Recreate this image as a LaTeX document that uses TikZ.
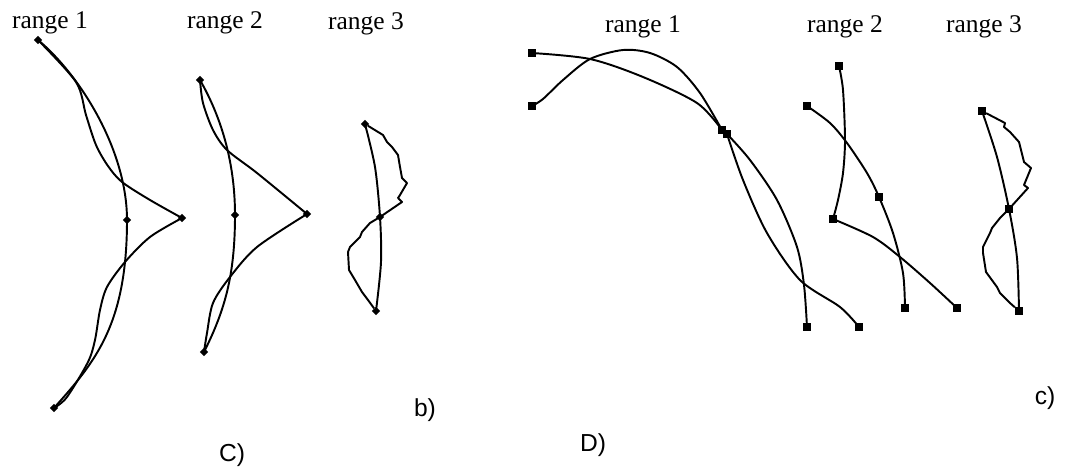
\documentclass[tikz,border=0pt]{standalone}
\usepackage{fontspec}
\setmainfont{Liberation Serif}
\setsansfont{Liberation Sans}
\usepackage{tikz}
\usetikzlibrary{positioning}

\tikzset{
    mk/.style={fill, inner sep=0pt, minimum size=4.3pt},
    dmk/.style={fill, inner sep=0pt, minimum size=3.3pt, rotate=45},
    crv/.style={line width=1.1pt, line join=round},
    rng/.style={font=\fontsize{14.5}{17}\selectfont, anchor=base},
    tag/.style={font=\sffamily\fontsize{14}{17}\selectfont}
}

\begin{document}
\begin{tikzpicture}[x=0.02cm, y=-0.02cm]
    \useasboundingbox (0,0) rectangle (1068,470);

    % left panel
    \node[rng] (l1) at (50,29) {range 1};
    \node[rng] (l2) at (225,29) {range 2};
    \node[rng] (l3) at (366,30) {range 3};

    \node[dmk] (a1) at (38,40) {};
    \node[dmk] (a2) at (127,220) {};
    \node[dmk] (a3) at (182,218) {};
    \node[dmk] (a4) at (54,408) {};
    \draw[crv] (a1.center) .. controls (80,75) and (127,150) .. (a2.center);
    \draw[crv] (a2.center) .. controls (127,325) and (95,362) .. (a4.center);
    \draw[crv] plot[smooth] coordinates {(a1.center) (76,82) (86,115) (96,145) (108,166) (122,182) (150,200) (a3.center)};
    \draw[crv] plot[smooth] coordinates {(a3.center) (150,237) (125,262) (107,287) (100,310) (95,340) (88,362) (67,397) (a4.center)};

    \node[dmk] (b1) at (200,80) {};
    \node[dmk] (b2) at (235,215) {};
    \node[dmk] (b3) at (307,214) {};
    \node[dmk] (b4) at (204,352) {};
    \draw[crv] (b1.center) .. controls (220,115) and (235,160) .. (b2.center);
    \draw[crv] (b2.center) .. controls (235,275) and (225,310) .. (b4.center);
    \draw[crv] plot[smooth] coordinates {(b1.center) (203,103) (213,130) (227,150) (257,173) (b3.center)};
    \draw[crv] plot[smooth] coordinates {(b3.center) (257,247) (230,277) (213,303) (207,333) (b4.center)};

    \node[dmk] (c1) at (365,124) {};
    \node[dmk] (c2) at (380,217) {};
    \node[dmk] (c3) at (376,311) {};
    \draw[crv] plot[smooth] coordinates {(c1.center) (375,167) (c2.center) (381,262) (c3.center)};
    \draw[crv] (c1) -- (383,135) -- (387,142) -- (392,147) -- (398,155) -- (400,167) -- (402,178)
        -- (407,183) -- (400,195) -- (398,198) -- (402,202) -- (c2.center) -- (370,223) -- (362,232)
        -- (360,237) -- (350,247) -- (348,252) -- (349,270) -- (355,280) -- (362,292) -- (368,300) -- (c3);

    \node[tag] (lb) at (425,410) {b)};
    \node[tag] (lc) at (232,455) {C)};

    % right panel
    \node[rng] (r1) at (643,32) {range 1};
    \node[rng] (r2) at (845,32) {range 2};
    \node[rng] (r3) at (984,32) {range 3};

    \node[mk] (d1) at (532,53) {};
    \node[mk] (d2) at (532,106) {};
    \node[mk] (d3) at (722,130) {};
    \node[mk] (d3b) at (727,134) {};
    \node[mk] (d4) at (807,327) {};
    \node[mk] (d5) at (859,327) {};
    \draw[crv] plot[smooth] coordinates {(d1.center) (590,59) (643,77) (697,103) (d3.center)};
    \draw[crv] plot[smooth] coordinates {(d2.center) (543,99) (563,80) (590,59) (623,50) (650,53) (677,67) (700,93) (d3.center)};
    \draw[crv] plot[smooth] coordinates {(d3b.center) (750,160) (777,200) (797,247) (804,285) (d4.center)};
    \draw[crv] plot[smooth] coordinates {(d3b.center) (743,180) (767,233) (800,280) (840,307) (d5.center)};

    \node[mk] (e1) at (839,66) {};
    \node[mk] (e2) at (807,106) {};
    \node[mk] (e3) at (879,197) {};
    \node[mk] (e4) at (833,219) {};
    \node[mk] (e5) at (905,308) {};
    \node[mk] (e6) at (957,308) {};
    \draw[crv] plot[smooth] coordinates {(e1.center) (843,90) (845,140) (843,173) (838,200) (e4.center)};
    \draw[crv] plot[smooth] coordinates {(e4.center) (873,237) (900,257) (930,283) (e6.center)};
    \draw[crv] plot[smooth] coordinates {(e2.center) (830,123) (847,143) (867,173) (e3.center) (893,233) (903,273) (e5.center)};

    \node[mk] (f1) at (982,111) {};
    \node[mk] (f2) at (1009,209) {};
    \node[mk] (f3) at (1019,311) {};
    \draw[crv] plot[smooth] coordinates {(f1.center) (997,157) (f2.center) (1017,258) (f3.center)};
    \draw[crv] (f1) -- (1005,123) -- (1004,127) -- (1010,132) -- (1019,142) -- (1024,162) -- (1031,168)
        -- (1024,185) -- (1028,188) -- (f2.center) -- (1000,218) -- (992,228) -- (990,233) -- (983,247)
        -- (983,253) -- (986,272) -- (997,287) -- (1000,293) -- (1010,303) -- (f3);

    \node[tag] (rc) at (1045,398) {c)};
    \node[tag] (rd) at (593,445) {D)};
\end{tikzpicture}
\end{document}
